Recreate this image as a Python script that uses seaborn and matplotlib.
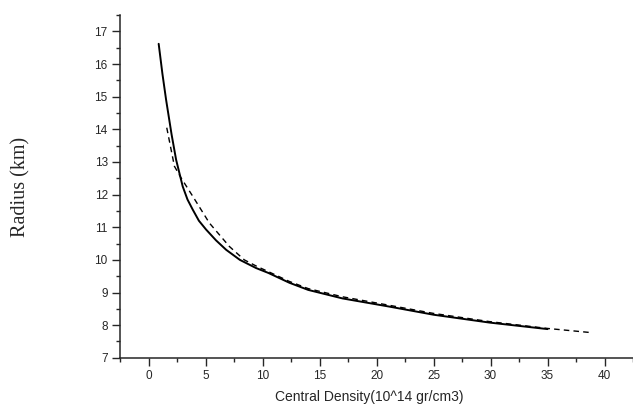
import numpy as np
import pandas as pd
import matplotlib
matplotlib.use('Agg')
import matplotlib.pyplot as plt
from matplotlib.ticker import MultipleLocator
import seaborn as sns

sns.set_style('ticks')
plt.rcParams['font.family'] = ['Liberation Sans', 'DejaVu Sans']

# solid curve
solid_density = [0.87, 1.2, 1.52, 2.0, 2.4, 2.98, 3.4, 3.86, 4.4, 5.03, 5.9, 6.79, 8.0,
                 9.42, 10.5, 12.34, 14.0, 17.0, 21.1, 25.0, 29.9, 35.0]
solid_radius = [16.62, 15.7, 14.91, 13.85, 13.07, 12.25, 11.85, 11.54, 11.2, 10.93, 10.6, 10.31, 10.0,
                9.75, 9.6, 9.3, 9.08, 8.82, 8.57, 8.32, 8.08, 7.88]

# dashed curve
dash_density = [1.58, 2.25, 2.84, 3.86, 5.32, 7.08, 8.39, 9.5, 10.5, 12.34, 14.0, 17.0,
                21.1, 25.0, 29.9, 35.0, 38.9]
dash_radius = [14.05, 12.87, 12.51, 11.95, 11.13, 10.41, 10.0, 9.8, 9.64, 9.34, 9.12, 8.87,
               8.61, 8.36, 8.11, 7.9, 7.77]

solid = pd.DataFrame({'density': solid_density, 'radius': solid_radius})
dashed = pd.DataFrame({'density': dash_density, 'radius': dash_radius})

fig = plt.figure(figsize=(6.33, 4.08), dpi=100)
ax = fig.add_axes([0.19, 0.123, 0.81, 0.84])

sns.lineplot(data=solid, x='density', y='radius', sort=False, estimator=None,
             color='black', lw=1.4, ax=ax)
sns.lineplot(data=dashed, x='density', y='radius', sort=False, estimator=None,
             color='black', lw=1.0, ax=ax)
ax.lines[-1].set_dashes([4, 3])

ax.set_xlim(-2.5, 42.5)
ax.set_ylim(7, 17.5)
ax.set_xticks(np.arange(0, 45, 5))
ax.xaxis.set_minor_locator(MultipleLocator(2.5))
ax.yaxis.set_major_locator(MultipleLocator(1))
ax.yaxis.set_minor_locator(MultipleLocator(0.5))
ax.tick_params(which='major', direction='out', length=5.5, width=1, labelsize=8.5, pad=3.5)
ax.tick_params(which='minor', direction='out', length=3, width=1)
sns.despine(ax=ax)
for s in ['left', 'bottom']:
    ax.spines[s].set_linewidth(1.1)

ax.set_xlabel('Central Density(10^14 gr/cm3)', fontsize=10)
ax.set_ylabel('Radius (km)', fontsize=14.5, family=['Liberation Serif'])
ax.yaxis.set_label_coords(-0.175, 0.5)
ax.xaxis.set_label_coords(0.485, -0.095)

fig.savefig('out.png', dpi=100)
